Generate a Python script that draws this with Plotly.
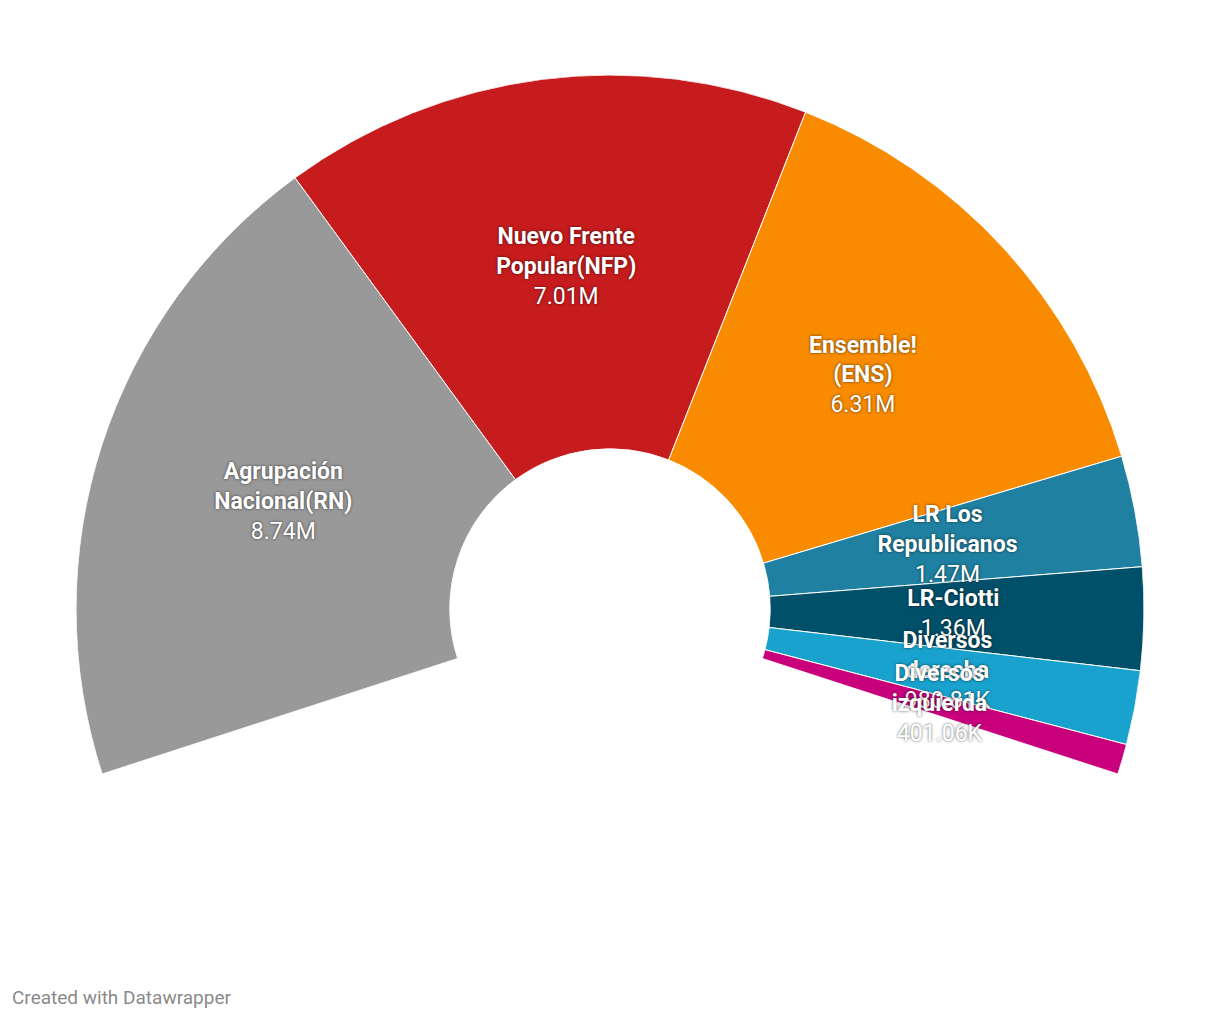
import textwrap
import plotly.graph_objects as go

# ---- data ----
parties = [
    "Agrupación Nacional(RN)",
    "Nuevo Frente Popular(NFP)",
    "Ensemble! (ENS)",
    "LR Los Republicanos",
    "LR-Ciotti",
    "Diversos derecha",
    "Diversos izquierda",
]
votes = [8740000, 7010000, 6310000, 1470000, 1360000, 980810, 401060]
colors = ["#999999", "#c61c1e", "#f88b00", "#1f80a1", "#005069", "#19a2cd", "#c8007c"]

# ---- geometry of the half-donut (datawrapper style, arc wider than 180°) ----
OVERHANG = 18.0            # degrees below horizontal on each side
SPAN = 180 + 2 * OVERHANG  # total arc

total = sum(votes)
widths, mids = [], []
cum = 0
for v in votes:
    w = v / total * SPAN
    widths.append(w)
    mids.append(cum + w / 2)
    cum += w


def fmt(v):
    if v >= 1e6:
        return f"{v / 1e6:.2f}M"
    return f"{v / 1e3:.2f}K"


labels = [
    "<b>" + "<br>".join(textwrap.wrap(p, 12)) + "</b><br>" + fmt(v)
    for p, v in zip(parties, votes)
]

W, H = 1220, 1020
OFF = 8  # page body margin

fig = go.Figure()
fig.add_trace(go.Barpolar(
    r=[1] * len(votes),
    theta=mids,
    width=widths,
    marker=dict(color=colors, line=dict(color="white", width=1)),
    hoverinfo="skip",
    showlegend=False,
))
fig.add_trace(go.Scatterpolar(
    r=[0.49] * len(votes),
    theta=mids,
    mode="text",
    text=labels,
    textposition="middle center",
    textfont=dict(family="Roboto", size=23, color="white",
                  shadow="0px 0px 3px rgba(0,0,0,0.65)"),
    hoverinfo="skip",
    showlegend=False,
))

fig.update_layout(
    width=W,
    height=H,
    margin=dict(l=0, r=0, t=0, b=0),
    paper_bgcolor="white",
    plot_bgcolor="white",
    font=dict(family="Roboto"),
    polar=dict(
        domain=dict(x=[(76 - OFF) / W, (1144 - OFF) / W],
                    y=[1 - (774 - OFF) / H, 1 - (75 - OFF) / H]),
        sector=[-OVERHANG, 180 + OVERHANG],
        hole=0.3,
        bgcolor="white",
        bargap=0,
        radialaxis=dict(visible=False, range=[0, 1]),
        angularaxis=dict(visible=False, rotation=180 + OVERHANG,
                         direction="clockwise", thetaunit="degrees"),
    ),
    annotations=[dict(
        text="Created with Datawrapper",
        xref="paper", yref="paper", x=(10 - OFF) / W, y=1 - (997 - OFF) / H,
        xanchor="left", yanchor="middle", showarrow=False,
        font=dict(family="Roboto", size=19, color="#8a8a8a"),
    )],
)

fig.write_html("out.html")
